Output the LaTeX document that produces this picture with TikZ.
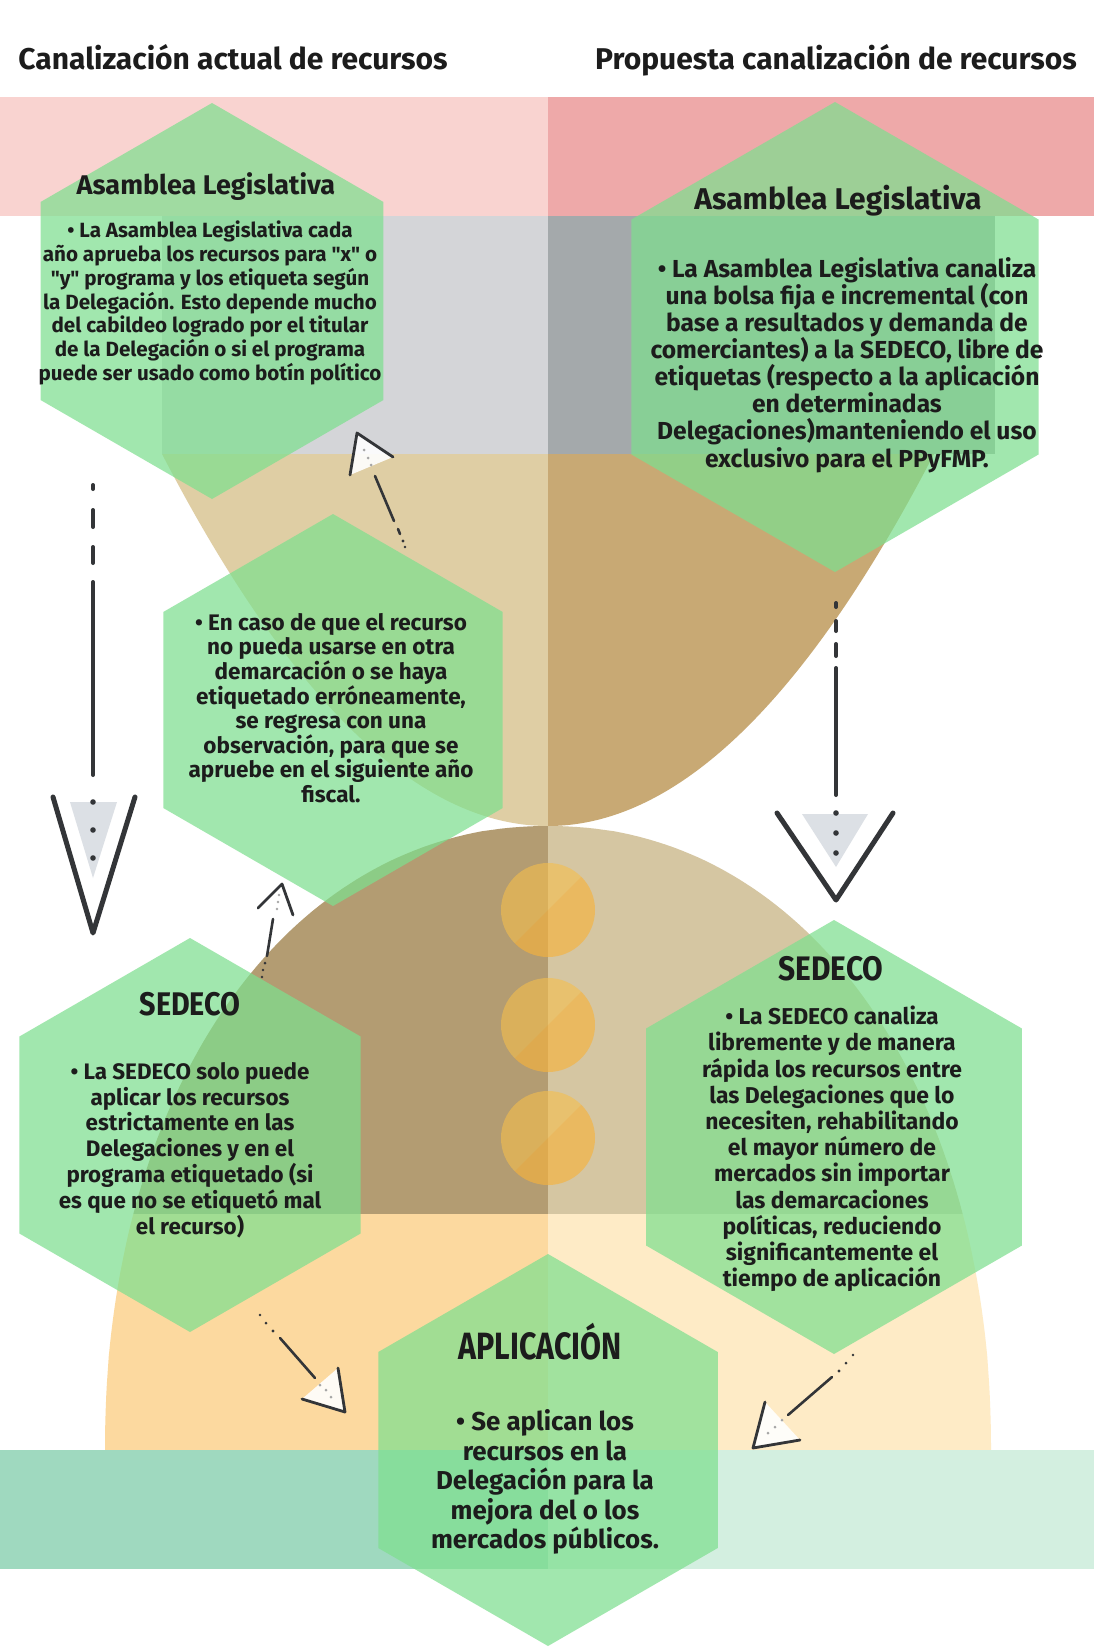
\documentclass[tikz,border=0pt]{standalone}
\usepackage{fontspec}
\usetikzlibrary{shapes.geometric}
\newfontfamily\fira{Fira Sans}
\newfontfamily\firac{Fira Sans}[FakeStretch=0.88]
\newfontfamily\firacc{Fira Sans}[FakeStretch=0.8]
\definecolor{pinkL}{HTML}{F9D3D0}
\definecolor{pinkR}{HTML}{EEA9A9}
\definecolor{grayL}{HTML}{D4D5D8}
\definecolor{grayR}{HTML}{A4A9AB}
\definecolor{tanL}{HTML}{DFCEA4}
\definecolor{tanR}{HTML}{C8A974}
\definecolor{domeL}{HTML}{B39C72}
\definecolor{domeR}{HTML}{D5C6A2}
\definecolor{sandL}{HTML}{FCD99F}
\definecolor{sandR}{HTML}{FEEBC6}
\definecolor{bandL}{HTML}{9FD9BF}
\definecolor{bandR}{HTML}{D3EFE0}
\definecolor{hexg}{HTML}{7EDF8F}
\definecolor{ink}{HTML}{1C1C1C}
\definecolor{arrowc}{HTML}{333538}
\definecolor{coinc}{HTML}{F5BE4C}
\definecolor{trig}{HTML}{DCE0E5}
\begin{document}
\begin{tikzpicture}[x=1pt,y=-1pt,
  hexa/.style={regular polygon, regular polygon sides=6, shape border rotate=30,
    fill=hexg, fill opacity=0.72, draw=none, inner sep=0pt, outer sep=0pt},
  txt/.style={text=ink, align=center, inner sep=0pt},
  arrowline/.style={draw=arrowc, line width=4pt, line cap=round},
  vhead/.style={draw=arrowc, line width=5pt, line cap=round, line join=round},
  headedge/.style={draw=arrowc, line width=2.8pt, line cap=round, line join=round},
  smallline/.style={draw=arrowc, line width=2.6pt, line cap=round},
  headfill/.style={fill=white, fill opacity=0.9},
  dotc/.style={fill=arrowc},
  dotg/.style={fill=gray!70}
]
\useasboundingbox (0,0) rectangle (1094,1648);
\fill[white] (0,0) rectangle (1094,1648);
% top band
\fill[pinkL] (0,97) rectangle (548,216);
\fill[pinkR] (548,97) rectangle (1094,216);
% gray chamber
\fill[grayL] (162,216) rectangle (548,454);
\fill[grayR] (548,216) rectangle (995,454);
% top bowl (sand)
\fill[tanL] (162,454) .. controls (290.7,702) and (419.3,826) .. (548,826) -- (548,454) -- cycle;
\fill[tanR] (934,454) .. controls (805.3,702) and (676.7,826) .. (548,826) -- (548,454) -- cycle;
% bottom dome
\begin{scope}
  \clip (548,1450) -- (105,1450) -- plot[domain=1:89, samples=80] ({548-443*(cos(\x))^0.952},{1450-624*(sin(\x))^0.952}) -- (548,826) -- cycle;
  \fill[domeL] (0,800) rectangle (548,1214);
  \fill[sandL] (0,1214) rectangle (548,1450);
\end{scope}
\begin{scope}
  \clip (548,1450) -- (991,1450) -- plot[domain=1:89, samples=80] ({548+443*(cos(\x))^0.952},{1450-624*(sin(\x))^0.952}) -- (548,826) -- cycle;
  \fill[domeR] (548,800) rectangle (1094,1214);
  \fill[sandR] (548,1214) rectangle (1094,1450);
\end{scope}
% coins
\foreach \cy in {910,1025,1138}{
  \fill[coinc, opacity=0.6] (548,\cy) circle (47pt);
  \begin{scope}
    \clip (548,\cy) circle (47pt);
    \fill[orange, opacity=0.12] (595,\cy-47) -- (501,\cy+47) -- (595,\cy+47) -- cycle;
  \end{scope}
}
% bottom band
\fill[bandL] (0,1450) rectangle (548,1569);
\fill[bandR] (548,1450) rectangle (1094,1569);

% hexagons
\node[hexa, minimum size=396pt] (h1) at (212,301) {};
\node[hexa, minimum size=470pt] (h2) at (835,337) {};
\node[hexa, minimum size=392pt] (h3) at (333,710) {};
\node[hexa, minimum size=394pt] (h4) at (190,1135) {};
\node[hexa, minimum size=434pt] (h5) at (834,1137) {};
\node[hexa, minimum size=392pt] (h6) at (548,1450) {};

% long arrow left
\coordinate (la1) at (93,582);
\coordinate (la2) at (93,775);
\coordinate (lv) at (93,933);
\fill[trig] (70,802) -- (117,802) -- (93,878) -- cycle;
\draw[arrowline] (93,485) -- (93,489);
\draw[arrowline] (93,510) -- (93,527);
\draw[arrowline] (93,547) -- (93,563);
\draw[arrowline] (la1) -- (la2);
\foreach \d in {802,830,858} \fill[dotc] (93,\d) circle (2.8pt);
\draw[vhead] (53,797) -- (lv) -- (135,797);
% long arrow right
\coordinate (ra1) at (836,668);
\coordinate (ra2) at (836,795);
\coordinate (rv) at (836,900);
\fill[trig] (802,814) -- (868,814) -- (836,867) -- cycle;
\draw[arrowline] (836,603) -- (836,607);
\draw[arrowline] (836,621) -- (836,631);
\draw[arrowline] (836,644) -- (836,656);
\draw[arrowline] (ra1) -- (ra2);
\foreach \d in {813,833,853} \fill[dotc] (836,\d) circle (2.8pt);
\draw[vhead] (777,813) -- (rv) -- (893,813);

% small arrow h3 -> h1
\coordinate (s1t) at (357,433);
\fill[headfill] (s1t) -- (350,475) -- (393,457) -- cycle;
\draw[headedge] (350,475) -- (s1t) -- (393,457);
\foreach \p in {(364,450),(368,458),(371,465)} \fill[dotg] \p circle (1.5pt);
\draw[smallline] (375,476) -- (394,521);
\draw[smallline] (398,529) -- (400,534);
\fill[dotc] (403,541) circle (1.6pt);
\fill[dotc] (405,547) circle (1.4pt);
% small arrow h4 -> h3
\coordinate (s2t) at (282,884);
\fill[headfill, fill opacity=0.6] (s2t) -- (258,908) -- (293,915) -- cycle;
\draw[headedge] (258,908) -- (s2t) -- (293,915);
\foreach \p in {(279,895),(278,902),(277,909)} \fill[dotg] \p circle (1.3pt);
\draw[smallline] (273,919) -- (267,956);
\fill[dotc] (265,963) circle (1.5pt);
\fill[dotc] (263,970) circle (1.4pt);
\fill[dotc] (262,977) circle (1.3pt);
% small arrow h4 -> h6
\coordinate (s3t) at (345,1412);
\fill[headfill] (s3t) -- (302,1399) -- (338,1368) -- cycle;
\draw[headedge] (302,1399) -- (s3t) -- (338,1368);
\foreach \p in {(320,1385),(326,1390),(331,1397)} \fill[dotg] \p circle (1.5pt);
\draw[smallline] (280,1338) -- (315,1378);
\fill[dotc] (273,1331) circle (1.6pt);
\fill[dotc] (266,1323) circle (1.5pt);
\fill[dotc] (260,1315) circle (1.3pt);
% small arrow h5 -> h6
\coordinate (s4t) at (753,1448);
\fill[headfill] (s4t) -- (765,1402) -- (800,1440) -- cycle;
\draw[headedge] (765,1402) -- (s4t) -- (800,1440);
\foreach \p in {(782,1420),(775,1427),(768,1433)} \fill[dotg] \p circle (1.5pt);
\draw[smallline] (832,1377) -- (788,1415);
\fill[dotc] (839,1371) circle (1.6pt);
\fill[dotc] (846,1363) circle (1.5pt);
\fill[dotc] (853,1355) circle (1.3pt);

% titles
\node[txt, anchor=base, font=\fira\bfseries\fontsize{30}{34}\selectfont] (t1) at (233,70) {Canalización actual de recursos};
\node[txt, anchor=base, font=\fira\bfseries\fontsize{30}{34}\selectfont] (t2) at (836,70) {Propuesta canalización de recursos};

% H1 text
\node[txt, anchor=base, font=\fira\bfseries\fontsize{27}{31}\selectfont] (h1t) at (206,194) {Asamblea Legislativa};
\node[txt, font=\fira\bfseries\fontsize{20.6}{23.8}\selectfont] (h1b) at (210,303) {• La Asamblea Legislativa cada\\año aprueba los recursos para "x" o\\"y" programa y los etiqueta según\\la Delegación. Esto depende mucho\\del cabildeo logrado por el titular\\de la Delegación o si el programa\\puede ser usado como botín político};
% H2 text
\node[txt, anchor=base, font=\fira\bfseries\fontsize{30}{34}\selectfont] (h2t) at (838,210) {Asamblea Legislativa};
\node[txt, font=\fira\bfseries\fontsize{24.6}{27.1}\selectfont] (h2b) at (847,365) {• La Asamblea Legislativa canaliza\\una bolsa fija e incremental (con\\base a resultados y demanda de\\comerciantes) a la SEDECO, libre de\\etiquetas (respecto a la aplicación\\en determinadas\\Delegaciones)manteniendo el uso\\exclusivo para el PPyFMP.};
% H3 text
\node[txt, font=\fira\bfseries\fontsize{22.5}{24.6}\selectfont] (h3b) at (331,708) {• En caso de que el recurso\\no pueda usarse en otra\\demarcación o se haya\\etiquetado erróneamente,\\se regresa con una\\observación, para que se\\apruebe en el siguiente año\\fiscal.};
% H4 text
\node[txt, anchor=base, font=\firac\bfseries\fontsize{32.7}{36}\selectfont] (h4t) at (190,1015) {SEDECO};
\node[txt, font=\fira\bfseries\fontsize{22.4}{25.8}\selectfont] (h4b) at (190,1150) {• La SEDECO solo puede\\aplicar los recursos\\estrictamente en las\\Delegaciones y en el\\programa etiquetado (si\\es que no se etiquetó mal\\el recurso)};
% H5 text
\node[txt, anchor=base, font=\firac\bfseries\fontsize{34}{37}\selectfont] (h5t) at (831,980) {SEDECO};
\node[txt, font=\fira\bfseries\fontsize{22.9}{26.2}\selectfont] (h5b) at (832,1149) {• La SEDECO canaliza\\libremente y de manera\\rápida los recursos entre\\las Delegaciones que lo\\necesiten, rehabilitando\\el mayor número de\\mercados sin importar\\las demarcaciones\\políticas, reduciendo\\significantemente el\\tiempo de aplicación};
% H6 text
\node[txt, anchor=base, font=\firacc\bfseries\fontsize{38}{42}\selectfont] (h6t) at (540,1359) {APLICACIÓN};
\node[txt, font=\fira\bfseries\fontsize{25.9}{29.4}\selectfont] (h6b) at (545,1482) {• Se aplican los\\recursos en la\\Delegación para la\\mejora del o los\\mercados públicos.};
\end{tikzpicture}
\end{document}
